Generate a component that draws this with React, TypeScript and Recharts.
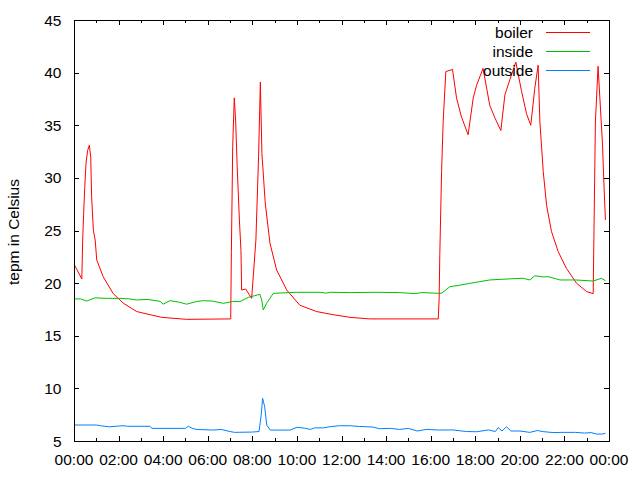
import React from 'react';
import { LineChart, Line, XAxis, YAxis, Legend } from 'recharts';

// hours since midnight, temperatures in Celsius
const boilerHours = [
  0, 0.35, 0.39, 0.43, 0.48, 0.54, 0.61, 0.69, 0.75, 0.79, 0.87, 0.95, 1.02, 1.31, 1.76, 2.21, 2.81, 3.41, 3.93, 5.05,
  7.03, 7.06, 7.12, 7.19, 7.25, 7.32, 7.42, 7.49, 7.52, 7.7, 7.97, 8.16, 8.28, 8.36, 8.43, 8.58, 8.79, 9.09, 9.54,
  10.13, 10.88, 11.63, 12.38, 13.27, 16.34, 16.38, 16.41, 16.49, 16.56, 16.68, 16.98, 17.16, 17.38, 17.68, 17.91,
  18.06, 18.35, 18.65, 18.88, 19.15, 19.33, 19.55, 19.82, 20.08, 20.3, 20.49, 20.67, 20.82, 20.9, 21.05, 21.2, 21.42,
  21.72, 22.09, 22.54, 22.99, 23.29, 23.39, 23.51, 23.59, 23.71, 23.78, 23.84,
];
const boilerTemp = [
  21.8, 20.4, 24.1, 26.5, 29.0, 31.4, 32.6, 33.1, 32.0, 28.2, 25.0, 24.1, 22.2, 20.6, 19.0, 18.1, 17.3, 17.0, 16.75, 16.56,
  16.6, 23.0, 33.0, 37.6, 35.5, 31.1, 26.0, 23.1, 19.35, 19.44, 18.55, 24.1, 32.0, 39.1, 32.3, 27.6, 23.8, 21.25, 19.35,
  17.9, 17.3, 17.0, 16.75, 16.6, 16.6, 18.5, 22.7, 30.6, 35.3, 40.1, 40.3, 37.6, 35.8, 34.1, 37.6,
  38.8, 40.4, 36.9, 35.7, 34.5, 37.9, 39.3, 41.0, 38.2, 36.1, 35.0, 38.5, 40.7, 35.3, 30.6, 27.4, 24.9,
  23.0, 21.4, 20.0, 19.2, 19.0, 35.3, 40.6, 37.6, 33.1, 29.0, 26.0,
];

const insideHours = [
  0, 0.3, 0.57, 0.94, 1.5, 2.06, 2.5, 2.8, 3.3, 3.86, 4.0, 4.3, 4.7, 5.05, 5.5, 5.8, 6.2, 6.7, 7.15, 7.44, 7.82, 8.1,
  8.34, 8.42, 8.49, 8.64, 8.94, 9.99, 11.03, 11.3, 11.5, 12.4, 13.5, 14.6, 15.3, 15.6, 16.4, 16.5, 16.86, 17.3, 17.76,
  18.65, 19.5, 20.15, 20.45, 20.67, 21.0, 21.3, 21.8, 22.5, 23.29, 23.66, 23.84,
];
const insideTemp = [
  18.5, 18.5, 18.3, 18.6, 18.55, 18.55, 18.5, 18.4, 18.45, 18.27, 18.0, 18.33, 18.2, 18.0, 18.25, 18.33, 18.3, 18.08, 18.27, 18.24, 18.65, 18.8,
  18.94, 18.4, 17.45, 18.08, 19.03, 19.13, 19.13, 19.05, 19.13, 19.1, 19.13, 19.1, 19.0, 19.1, 19.03, 19.05, 19.66, 19.8, 19.98,
  20.3, 20.4, 20.46, 20.3, 20.7, 20.6, 20.6, 20.3, 20.3, 20.2, 20.46, 20.23,
];

const outsideHours = [
  0, 1.0, 1.24, 1.6, 2.0, 2.2, 2.4, 3.4, 3.5, 5.0, 5.13, 5.3, 5.5, 6.25, 6.6, 7.0, 7.2, 8.0, 8.3, 8.4, 8.46, 8.55, 8.65,
  8.8, 9.0, 9.7, 10.0, 10.4, 10.6, 10.8, 11.2, 11.48, 11.9, 12.4, 12.8, 13.4, 13.7, 14.2, 14.6, 15.0, 15.4, 15.8, 16.4,
  17.0, 17.6, 18.06, 18.6, 18.9, 19.03, 19.2, 19.4, 19.6, 20.0, 20.45, 20.8, 21.0, 21.5, 21.94, 22.5, 22.9, 23.2, 23.44,
  23.7, 23.84,
];
const outsideTemp = [
  6.52, 6.52, 6.43, 6.35, 6.42, 6.45, 6.4, 6.4, 6.2, 6.2, 6.4, 6.2, 6.1, 6.04, 6.1, 5.9, 5.82, 5.85, 5.9, 7.5, 9.06, 8.3, 6.5,
  6.05, 6.04, 6.04, 6.3, 6.2, 6.1, 6.25, 6.25, 6.36, 6.45, 6.45, 6.38, 6.33, 6.17, 6.2, 6.1, 6.2, 5.95, 6.1, 6.04,
  6.05, 5.9, 5.88, 6.05, 5.9, 6.28, 5.95, 6.35, 5.95, 5.95, 5.82, 6.0, 5.9, 5.8, 5.82, 5.82, 5.75, 5.8, 5.66,
  5.66, 5.73,
];

const seriesNames = ['boiler', 'inside', 'outside'];
const seriesColors = ['#ff0000', '#00c000', '#0080ff'];

const hourTicks = [0, 1, 2, 3, 4, 5, 6, 7, 8, 9, 10, 11, 12, 13, 14, 15, 16, 17, 18, 19, 20, 21, 22, 23, 24];
const tempTicks = [5, 10, 15, 20, 25, 30, 35, 40, 45];

const toPoints = (hours: number[], temps: number[]) => hours.map((h, i) => ({ h, t: temps[i] }));
const seriesData = [
  toPoints(boilerHours, boilerTemp),
  toPoints(insideHours, insideTemp),
  toPoints(outsideHours, outsideTemp),
];

// plot box, in px
const PLOT = { left: 74, top: 20, width: 535, height: 421 };

const FONT = '"Liberation Sans", Arial, sans-serif';

const fmtHour = (h: number) => `${String(h % 24).padStart(2, '0')}:00`;

// gnuplot style: ticks point inwards and are mirrored on the opposite side
const BottomTick = (props: any) => {
  const { x, y, payload } = props;
  const major = payload.value % 2 === 0;
  const len = major ? 5 : 3;
  const px = Math.round(x);
  const top = Math.round(y - PLOT.height);
  return (
    <g>
      <rect x={px} y={Math.round(y) - len} width={1} height={len} fill="#000" />
      <rect x={px} y={top} width={1} height={len} fill="#000" />
      {major && (
        <text x={x} y={y + 24} textAnchor="middle" fill="#000" fontSize={15.5} fontFamily={FONT}>
          {fmtHour(payload.value)}
        </text>
      )}
    </g>
  );
};

const LeftTick = (props: any) => {
  const { x, y, payload } = props;
  const py = Math.round(y);
  const px = Math.round(x);
  return (
    <g>
      <rect x={px} y={py} width={5} height={1} fill="#000" />
      <rect x={px + PLOT.width - 5} y={py} width={5} height={1} fill="#000" />
      <text x={x - 12.5} y={y + 5.5} textAnchor="end" fill="#000" fontSize={15.5} fontFamily={FONT}>
        {payload.value}
      </text>
    </g>
  );
};

const LegendBox = () => (
  <div style={{ fontFamily: FONT, fontSize: 15.5, color: '#000' }}>
    {seriesNames.map((name, i) => (
      <div key={name} style={{ display: 'flex', alignItems: 'center', justifyContent: 'flex-end', height: 19 }}>
        <span style={{ lineHeight: '19px' }}>{name}</span>
        <svg width={44} height={3} style={{ marginLeft: 13, display: 'block' }}>
          <line x1={0} x2={44} y1={1.5} y2={1.5} stroke={seriesColors[i]} strokeWidth={1} />
        </svg>
      </div>
    ))}
  </div>
);

export default function App() {
  return (
    <div style={{ position: 'absolute', left: 0, top: 0, width: 640, height: 480, background: '#fff' }}>
      <LineChart
        width={640}
        height={480}
        margin={{ top: PLOT.top, right: 640 - PLOT.left - PLOT.width, bottom: 480 - PLOT.top - PLOT.height - 1, left: PLOT.left - 1 }}
      >
        <XAxis
          dataKey="h"
          type="number"
          domain={[0, 24]}
          ticks={hourTicks}
          height={1}
          tickSize={0}
          tickMargin={0}
          tickLine={false}
          axisLine={false}
          tick={<BottomTick />}
          allowDataOverflow
        />
        <YAxis
          type="number"
          domain={[5, 45]}
          ticks={tempTicks}
          width={1}
          tickSize={0}
          tickMargin={0}
          tickLine={false}
          axisLine={false}
          tick={<LeftTick />}
          allowDataOverflow
          label={{
            content: () => (
              <text
                x={18.5}
                y={232}
                transform="rotate(-90 18.5 232)"
                textAnchor="middle"
                fill="#000"
                fontSize={15.5}
                fontFamily={FONT}
              >
                tepm in Celsius
              </text>
            ),
          }}
        />
        <Legend
          layout="horizontal"
          verticalAlign="middle"
          align="center"
          content={<LegendBox />}
          wrapperStyle={{ left: 400, top: 22.5, width: 190, height: 57 }}
        />
        {seriesNames.map((name, i) => (
          <Line
            key={name}
            data={seriesData[i]}
            dataKey="t"
            name={name}
            stroke={seriesColors[i]}
            strokeWidth={1}
            dot={false}
            isAnimationActive={false}
          />
        ))}
      </LineChart>
      {/* plot border */}
      <div
        style={{
          position: 'absolute',
          left: PLOT.left,
          top: PLOT.top,
          width: PLOT.width + 1,
          height: PLOT.height + 1,
          boxSizing: 'border-box',
          border: '1px solid #000',
          pointerEvents: 'none',
        }}
      />
    </div>
  );
}
